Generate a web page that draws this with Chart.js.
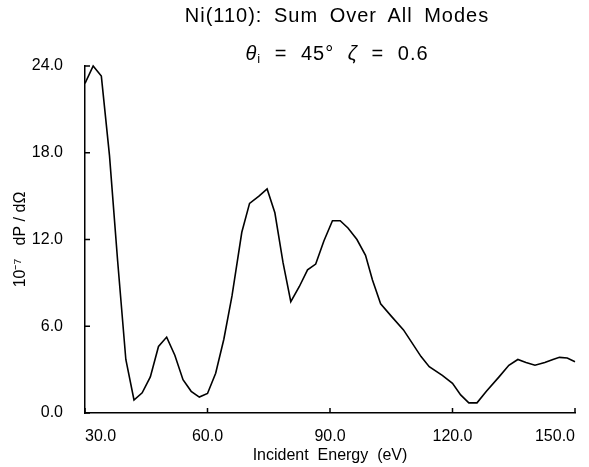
<!DOCTYPE html>
<html lang="en">
<head>
  <meta charset="UTF-8">
  <title>Ni(110): Sum Over All Modes</title>
  <script src="https://cdn.jsdelivr.net/npm/chart.js"></script>
  <style>
    body { margin: 0; background: #fff; }
    #wrap { position: relative; width: 589px; height: 467px; }
    .ttl {
      position: absolute; left: 0; width: 674px; text-align: center;
      font-family: "Liberation Sans", Arial, sans-serif; font-size: 20px;
      color: #000; letter-spacing: 1px; white-space: nowrap;
    }
    #t1 { top: 4px; word-spacing: 5px; }
    #t2 { top: 42px; word-spacing: 7px; }
    #t2 sub { font-size: 13px; vertical-align: -3px; line-height: 0; }
  </style>
</head>
<body>
  <div id="wrap">
    <canvas id="plot" width="589" height="467"></canvas>
    <div class="ttl" id="t1">Ni(110): Sum Over All Modes</div>
    <div class="ttl" id="t2"><i>θ</i><sub>i</sub> = 45° <i>ζ</i> = 0.6</div>
  </div>

  <script>
    // incident energy (eV) and summed power
    const energy = [30, 32, 34, 36, 38, 40, 42, 44, 46, 48,
                    50, 52, 54, 56, 58, 60, 62, 64, 66, 68.4,
                    70.3, 72.6, 74.6, 76.5, 78.5, 80.4, 82.5, 84.5, 86.5, 88.5,
                    90.6, 92.5, 94.4, 96.6, 98.7, 100.4, 102.4, 105, 108, 112.3,
                    114.3, 117.5, 120, 122, 124, 126, 128.3, 131.4, 133.8, 136,
                    138, 140.2, 142.6, 144.6, 146.2, 148.1, 150];
    const power = [22.8, 24.0, 23.3, 17.8, 10.5, 3.7, 0.9, 1.4, 2.5, 4.6,
                   5.25, 4.0, 2.3, 1.5, 1.1, 1.35, 2.75, 5.1, 8.1, 12.5,
                   14.5, 15.0, 15.5, 13.85, 10.4, 7.7, 8.75, 9.9, 10.3, 11.9,
                   13.3, 13.3, 12.8, 12.0, 10.9, 9.2, 7.55, 6.7, 5.75, 3.9,
                   3.2, 2.6, 2.05, 1.25, 0.7, 0.7, 1.5, 2.5, 3.3, 3.7,
                   3.5, 3.3, 3.5, 3.7, 3.85, 3.8, 3.55];
    const xTicks = [30, 60, 90, 120, 150];
    const yTicks = [0, 6, 12, 18, 24];

    const font = { family: '"Liberation Sans", Arial, sans-serif', size: 16 };

    // small tick marks pointing into the plot
    const innerTicks = {
      id: 'innerTicks',
      afterDraw(chart) {
        const { ctx, chartArea: a, scales: { x, y } } = chart;
        ctx.save();
        ctx.strokeStyle = '#000';
        ctx.lineWidth = 1.5;
        ctx.beginPath();
        xTicks.forEach(v => {
          const px = x.getPixelForValue(v);
          ctx.moveTo(px, a.bottom);
          ctx.lineTo(px, a.bottom - 5);
        });
        yTicks.forEach(v => {
          const py = y.getPixelForValue(v);
          ctx.moveTo(a.left, py);
          ctx.lineTo(a.left + 5, py);
        });
        ctx.stroke();
        ctx.restore();
      }
    };

    new Chart(document.getElementById('plot'), {
      type: 'line',
      data: {
        datasets: [{
          data: energy.map((e, i) => ({ x: e, y: power[i] })),
          borderColor: '#000',
          borderWidth: 1.6,
          pointRadius: 0,
          tension: 0,
          fill: false,
          clip: false
        }]
      },
      options: {
        responsive: false,
        animation: false,
        layout: { padding: { top: 66, right: 1, left: 0, bottom: 0 } },
        plugins: { legend: { display: false }, tooltip: { enabled: false } },
        scales: {
          x: {
            type: 'linear',
            min: 30,
            max: 150,
            afterBuildTicks: s => { s.ticks = xTicks.map(v => ({ value: v })); },
            afterFit: s => { s.height = 54; },
            grid: { display: false, drawTicks: false },
            border: { display: true, color: '#000', width: 1.5 },
            ticks: {
              align: 'inner',
              padding: 14,
              color: '#000',
              font: font,
              maxRotation: 0,
              callback: v => v.toFixed(1)
            },
            title: {
              display: true,
              text: 'Incident  Energy  (eV)',
              color: '#000',
              font: font,
              padding: { top: 0, bottom: 2 }
            }
          },
          y: {
            min: 0,
            max: 24,
            afterBuildTicks: s => { s.ticks = yTicks.map(v => ({ value: v })); },
            afterFit: s => { s.width = 85; },
            grid: { display: false, drawTicks: false },
            border: { display: true, color: '#000', width: 1.5 },
            ticks: {
              padding: 22,
              color: '#000',
              font: font,
              callback: v => v.toFixed(1)
            },
            title: {
              display: true,
              text: '10⁻⁷   dP / dΩ',
              color: '#000',
              font: font,
              padding: { top: 11, bottom: 0 }
            }
          }
        }
      },
      plugins: [innerTicks]
    });
  </script>
</body>
</html>
